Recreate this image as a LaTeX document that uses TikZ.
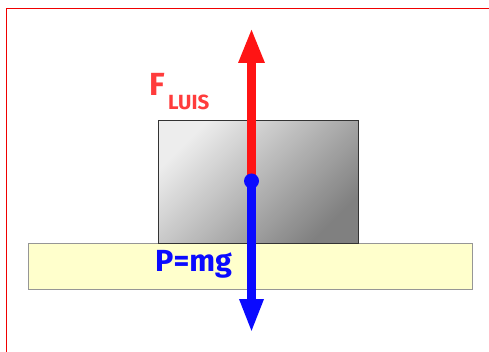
\documentclass[tikz,border=0pt]{standalone}
\usepackage{fontspec}
\setmainfont{Fira Sans}
\usetikzlibrary{arrows.meta}
\definecolor{frame}{RGB}{240,0,0}
\definecolor{forcered}{RGB}{255,20,20}
\definecolor{labelred}{RGB}{255,60,60}
\definecolor{forceblue}{RGB}{10,10,255}
\definecolor{floorfill}{RGB}{255,255,204}
\definecolor{edgegray}{RGB}{150,150,150}
\tikzset{
  blockbox/.style={draw=black!80, line width=1.2pt, top color=black!7, bottom color=black!50, shading angle=45, minimum width=200pt, minimum height=123pt, inner sep=0pt, anchor=north west},
  floorbox/.style={draw=edgegray, line width=1.2pt, fill=floorfill, minimum width=444pt, minimum height=46pt, inner sep=0pt, anchor=north west},
  forcearrow/.style={line width=8.5pt, -{Triangle[length=35pt, width=24pt]}},
}
\begin{document}
\begin{tikzpicture}[x=1pt, y=-1pt]
\useasboundingbox (0,0) rectangle (489,352);
\fill[white] (0,0) rectangle (489,352);
\draw[frame, line width=1.8pt] (6.5,352) -- (6.5,8.5) -- (489,8.5);
\node[floorbox] (floor) at (28,243) {};
\node[blockbox] (block) at (158,120) {};
\coordinate (origin) at (251.5,181);
\coordinate (uptip) at (251.5,28);
\coordinate (downtip) at (251.5,333);
\draw[forcearrow, forcered] (origin) -- (uptip);
\draw[forcearrow, forceblue, -{Triangle[length=34pt, width=22pt]}] (origin) -- (downtip);
\node[circle, fill=forceblue, minimum size=15pt, inner sep=0pt] (dot) at (origin) {};
\node[text=labelred, anchor=base west, inner sep=0pt] (flabel) at (149,96) {\fontsize{32}{33}\selectfont\bfseries F};
\node[text=labelred, anchor=base west, inner sep=0pt] (fsub) at (168,110) {\fontsize{20.5}{21}\selectfont\bfseries LUIS};
\node[text=forceblue, anchor=base west, inner sep=0pt] (plabel) at (155,272) {\fontsize{30.5}{31}\selectfont\bfseries P=mg};
\end{tikzpicture}
\end{document}
